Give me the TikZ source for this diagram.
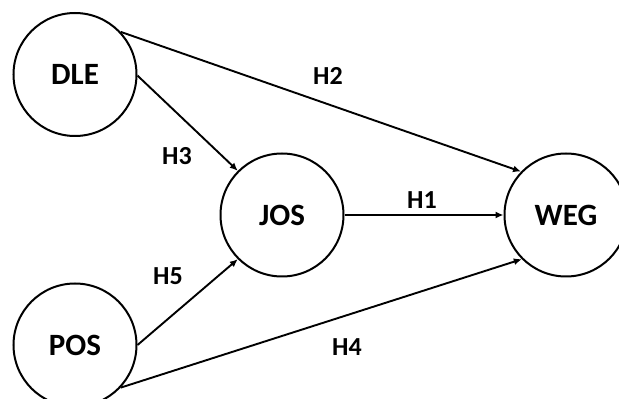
\documentclass[tikz,border=0pt]{standalone}
\usepackage{fontspec}
\setmainfont{Carlito}
\usetikzlibrary{arrows.meta}
\begin{document}
\begin{tikzpicture}[x=1pt,y=1pt,
  var/.style={circle,draw,line width=2pt,minimum size=123pt,inner sep=0pt,font=\fontsize{31}{32}\selectfont\bfseries},
  hyp/.style={font=\fontsize{26}{27}\selectfont\bfseries,inner sep=0pt},
  conn/.style={line width=1.9pt,-{Latex[length=8pt,width=7pt]}}]
\clip (0,0) rectangle (619,399);
\useasboundingbox (0,0) rectangle (619,399);
\node[var] (DLE) at (75,324.5) {DLE};
\node[var] (POS) at (75,54) {POS};
\node[var] (JOS) at (282,184) {JOS};
\node[var] (WEG) at (566,184) {WEG};
\draw[conn] (DLE.43) -- (WEG.136);
\draw[conn] (DLE.-1) -- (JOS.135);
\draw[conn] (JOS.0) -- (WEG.180);
\draw[conn] (POS.0) -- (JOS.225);
\draw[conn] (POS.-43) -- (WEG.225);
\node[hyp] (h2) at (328,323) {H2};
\node[hyp] (h3) at (177,243) {H3};
\node[hyp] (h1) at (422,199) {H1};
\node[hyp] (h5) at (168,123) {H5};
\node[hyp] (h4) at (347,52) {H4};
\end{tikzpicture}
\end{document}
